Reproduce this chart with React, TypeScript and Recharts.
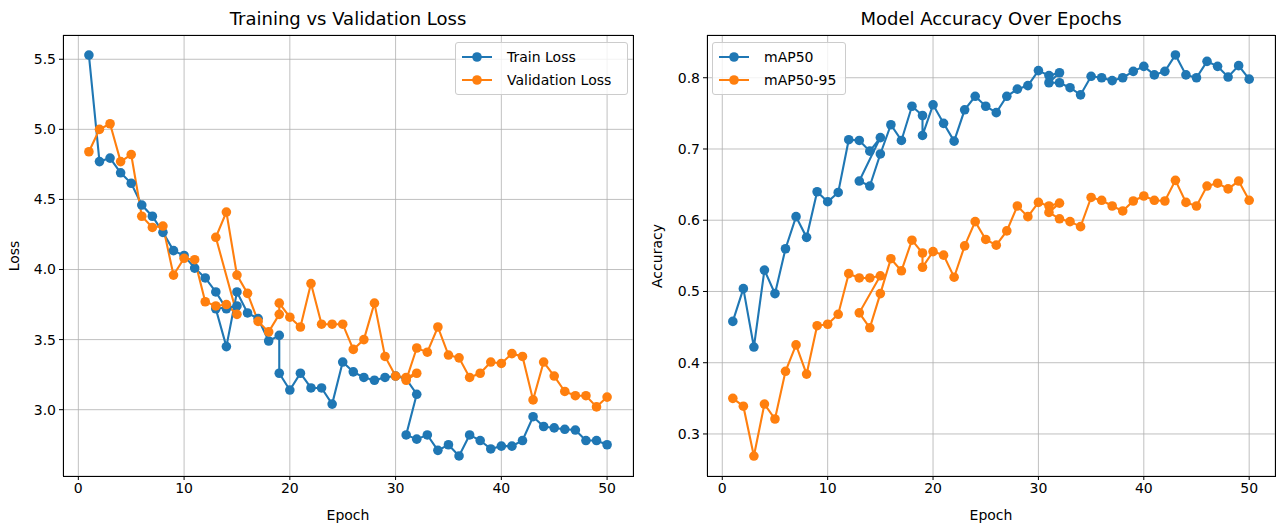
import { LineChart, Line, XAxis, YAxis, CartesianGrid } from 'recharts'

// training was resumed twice, so some epochs show up two times in the log
const epochs = [
  1, 2, 3, 4, 5, 6, 7, 8, 9, 10, 11, 12, 13, 14, 15,
  13, 14, 15, 16, 17, 18, 19,
  19, 20, 21, 22, 23, 24, 25, 26, 27, 28, 29, 30, 31, 32,
  31, 32, 33, 34, 35, 36, 37, 38, 39, 40, 41, 42, 43, 44, 45, 46, 47, 48, 49, 50,
]

const trainLoss = [
  5.53, 4.77, 4.795, 4.69, 4.615, 4.46, 4.38, 4.265, 4.135, 4.1, 4.01, 3.94, 3.84, 3.72, 3.74,
  3.72, 3.45, 3.84, 3.69, 3.65, 3.49, 3.53,
  3.26, 3.14, 3.26, 3.155, 3.155, 3.04, 3.34, 3.27, 3.23, 3.21, 3.23, 3.24, 3.22, 3.11,
  2.82, 2.79, 2.82, 2.71, 2.75, 2.67, 2.82, 2.78, 2.72, 2.74, 2.74, 2.78, 2.95, 2.88, 2.87, 2.86, 2.855, 2.78, 2.78, 2.75,
]

const valLoss = [
  4.84, 5.0, 5.04, 4.77, 4.82, 4.38, 4.3, 4.31, 3.96, 4.08, 4.07, 3.77, 3.74, 3.75, 3.68,
  4.23, 4.41, 3.96, 3.83, 3.63, 3.555, 3.68,
  3.76, 3.66, 3.59, 3.9, 3.61, 3.61, 3.61, 3.43, 3.5, 3.76, 3.38, 3.24, 3.23, 3.26,
  3.21, 3.44, 3.41, 3.59, 3.39, 3.37, 3.23, 3.26, 3.34, 3.33, 3.4, 3.38, 3.07, 3.34, 3.24, 3.13, 3.1, 3.1, 3.02, 3.09,
]

const map50 = [
  0.458, 0.504, 0.422, 0.53, 0.497, 0.56, 0.605, 0.576, 0.64, 0.626, 0.639, 0.713, 0.712, 0.697, 0.716,
  0.655, 0.648, 0.693, 0.734, 0.712, 0.76, 0.747,
  0.719, 0.762, 0.736, 0.711, 0.755, 0.774, 0.76, 0.751, 0.774, 0.784, 0.789, 0.81, 0.803, 0.807,
  0.793, 0.793, 0.786, 0.776, 0.802, 0.8, 0.796, 0.8, 0.809, 0.816, 0.804, 0.809, 0.832, 0.804, 0.8, 0.823, 0.816, 0.801, 0.817, 0.798,
]

const map5095 = [
  0.35, 0.339, 0.269, 0.342, 0.321, 0.388, 0.425, 0.384, 0.452, 0.454, 0.468, 0.525, 0.519, 0.519, 0.522,
  0.47, 0.449, 0.497, 0.546, 0.529, 0.572, 0.554,
  0.534, 0.556, 0.551, 0.52, 0.564, 0.598, 0.573, 0.565, 0.585, 0.62, 0.605, 0.625, 0.62, 0.624,
  0.611, 0.602, 0.598, 0.591, 0.632, 0.628, 0.62, 0.613, 0.627, 0.634, 0.628, 0.627, 0.656, 0.625, 0.62, 0.648, 0.652, 0.644, 0.655, 0.628,
]

const xTicks = [0, 10, 20, 30, 40, 50]
const lossTicks = [3.0, 3.5, 4.0, 4.5, 5.0, 5.5]
const accTicks = [0.3, 0.4, 0.5, 0.6, 0.7, 0.8]

const BLUE = '#1f77b4'
const ORANGE = '#ff7f0e'
const FONT = '"DejaVu Sans", sans-serif'
const TOP = 35
const PLOT_H = 441
const H = 525

const lossData = epochs.map((e, i) => ({ epoch: e, train: trainLoss[i], val: valLoss[i] }))
const accData = epochs.map((e, i) => ({ epoch: e, m50: map50[i], m5095: map5095[i] }))

type Series = { key: string; name: string; color: string }

function LegendBox({ x, y, width, items }: { x: number; y: number; width: number; items: Series[] }) {
  return (
    <div
      style={{
        position: 'absolute', left: x, top: y, width, height: 53, boxSizing: 'border-box',
        border: '1px solid #cccccc', borderRadius: 3, background: 'rgba(255,255,255,0.8)',
      }}
    >
      {items.map((it, i) => (
        <div key={it.key} style={{ position: 'absolute', left: 6, top: 5 + i * 23, height: 18, display: 'flex', alignItems: 'center' }}>
          <svg width={30} height={12}>
            <line x1={0} y1={6} x2={30} y2={6} stroke={it.color} strokeWidth={2} />
            <circle cx={15} cy={6} r={4.8} fill={it.color} />
          </svg>
          <span style={{ marginLeft: 15, fontSize: 14, fontFamily: FONT, color: '#000', whiteSpace: 'nowrap' }}>{it.name}</span>
        </div>
      ))}
    </div>
  )
}

interface PanelProps {
  left: number
  width: number
  yWidth: number
  right: number
  data: any[]
  series: Series[]
  yDomain: [number, number]
  yTicks: number[]
  title: string
  yLabel: string
  legendX: number
  legendW: number
}

function Panel(p: PanelProps) {
  const plotL = p.yWidth
  const plotW = p.width - p.yWidth - p.right
  const tick = { fill: '#000', fontSize: 14, fontFamily: FONT }
  return (
    <div style={{ position: 'absolute', left: p.left, top: 0, width: p.width, height: H }}>
      <LineChart width={p.width} height={H} data={p.data} margin={{ top: TOP, right: p.right, bottom: 0, left: 0 }}>
        <CartesianGrid stroke="#b0b0b0" strokeWidth={0.8} />
        <XAxis
          dataKey="epoch" type="number" domain={[-1.45, 52.45]} ticks={xTicks} allowDataOverflow
          height={H - TOP - PLOT_H} tick={tick} tickSize={4} tickMargin={3}
          axisLine={false} tickLine={{ stroke: '#000' }}
        />
        <YAxis
          type="number" domain={p.yDomain} ticks={p.yTicks} allowDataOverflow width={p.yWidth}
          tick={tick} tickSize={4} tickMargin={3} tickFormatter={(v: number) => v.toFixed(1)}
          axisLine={false} tickLine={{ stroke: '#000' }}
        />
        {p.series.map(s => (
          <Line
            key={s.key} dataKey={s.key} name={s.name} type="linear" stroke={s.color} strokeWidth={2.1}
            dot={{ r: 4.8, fill: s.color, stroke: s.color, strokeWidth: 0 }} activeDot={false}
            isAnimationActive={false}
          />
        ))}
      </LineChart>
      {/* axes frame, all four spines */}
      <div style={{ position: 'absolute', left: plotL - 0.5, top: TOP - 0.5, width: plotW + 1, height: PLOT_H + 1, border: '1px solid #000', boxSizing: 'border-box', pointerEvents: 'none' }} />
      <div style={{ position: 'absolute', left: plotL + plotW / 2, top: 19, transform: 'translate(-50%,-50%)', fontFamily: FONT, fontSize: 18, whiteSpace: 'nowrap', lineHeight: 1 }}>
        {p.title}
      </div>
      <div style={{ position: 'absolute', left: plotL + plotW / 2, top: 515, transform: 'translate(-50%,-50%)', fontFamily: FONT, fontSize: 14, lineHeight: 1 }}>
        Epoch
      </div>
      <div style={{ position: 'absolute', left: 14 + (p.left > 0 ? 2 : 0), top: TOP + PLOT_H / 2, transform: 'translate(-50%,-50%) rotate(-90deg)', fontFamily: FONT, fontSize: 14, lineHeight: 1, whiteSpace: 'nowrap' }}>
        {p.yLabel}
      </div>
      <LegendBox x={p.legendX} y={42} width={p.legendW} items={p.series} />
    </div>
  )
}

export default function App() {
  return (
    <div style={{ position: 'absolute', left: 0, top: 0, width: 1277, height: H, background: '#fff', overflow: 'hidden' }}>
      <Panel
        left={0} width={640} yWidth={63} right={7} data={lossData}
        series={[{ key: 'train', name: 'Train Loss', color: BLUE }, { key: 'val', name: 'Validation Loss', color: ORANGE }]}
        yDomain={[2.527, 5.673]} yTicks={lossTicks} title="Training vs Validation Loss" yLabel="Loss"
        legendX={455} legendW={173}
      />
      <Panel
        left={641} width={636} yWidth={66} right={2} data={accData}
        series={[{ key: 'm50', name: 'mAP50', color: BLUE }, { key: 'm5095', name: 'mAP50-95', color: ORANGE }]}
        yDomain={[0.241, 0.86]} yTicks={accTicks} title="Model Accuracy Over Epochs" yLabel="Accuracy"
        legendX={71} legendW={134}
      />
    </div>
  )
}
